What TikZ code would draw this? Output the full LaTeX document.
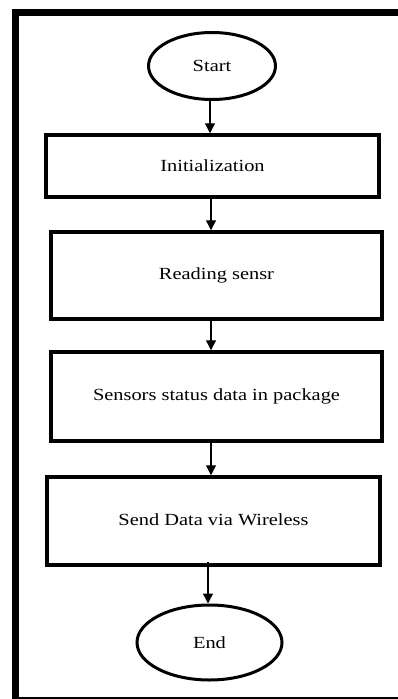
\documentclass[tikz,border=0pt]{standalone}
\usepackage{fontspec}
\setmainfont{Liberation Serif}
\newfontfamily\boxfont[FakeStretch=1.2]{Liberation Serif}
\usetikzlibrary{arrows.meta,shapes.geometric}
\begin{document}
\begin{tikzpicture}[x=1pt,y=-1pt,
  label font/.style={font=\boxfont\fontsize{17}{20}\selectfont},
  stepbox/.style={draw,line width=3.5pt,minimum width=#1,inner sep=0pt,label font},
  terminal/.style={draw,ellipse,line width=3pt,inner sep=0pt,label font},
  flow/.style={line width=1.3pt,-{Triangle[width=10pt,length=10pt]}}]
\useasboundingbox (0,0) rectangle (398,699);
% outer frame, running off the right and bottom edges
\begin{scope}
\clip (0,0) rectangle (398,699);
\draw[line width=7pt] (15.5,12.5) rectangle (410,700.5);
\end{scope}
% flow steps
\node[terminal,minimum width=127pt,minimum height=67pt] (start) at (212,66) {Start};
\node[stepbox=333pt,minimum height=62pt] (init) at (212.5,166) {Initialization};
\node[stepbox=331pt,minimum height=87pt] (read) at (216.5,275.5) {Reading sensr};
\node[stepbox=331pt,minimum height=89pt] (pack) at (216.5,396.5) {Sensors status data in package};
\node[stepbox=333pt,minimum height=88pt] (send) at (213.5,521) {};
\node[label font] (sendtxt) at (213.5,520) {Send Data via Wireless};
\node[terminal,minimum width=145pt,minimum height=75pt] (end) at (209.5,642.5) {End};
% connectors
\draw[flow] (start.south -| 210,0) -- (init.north -| 210,0);
\draw[flow] (init.south -| 211,0) -- (read.north -| 211,0);
\draw[flow] (read.south -| 211,0) -- (pack.north -| 211,0);
\draw[flow] (pack.south -| 211,0) -- (send.north -| 211,0);
\draw[flow] ([yshift=5pt]send.south -| 208,0) -- (end.north -| 208,0);
\end{tikzpicture}
\end{document}
